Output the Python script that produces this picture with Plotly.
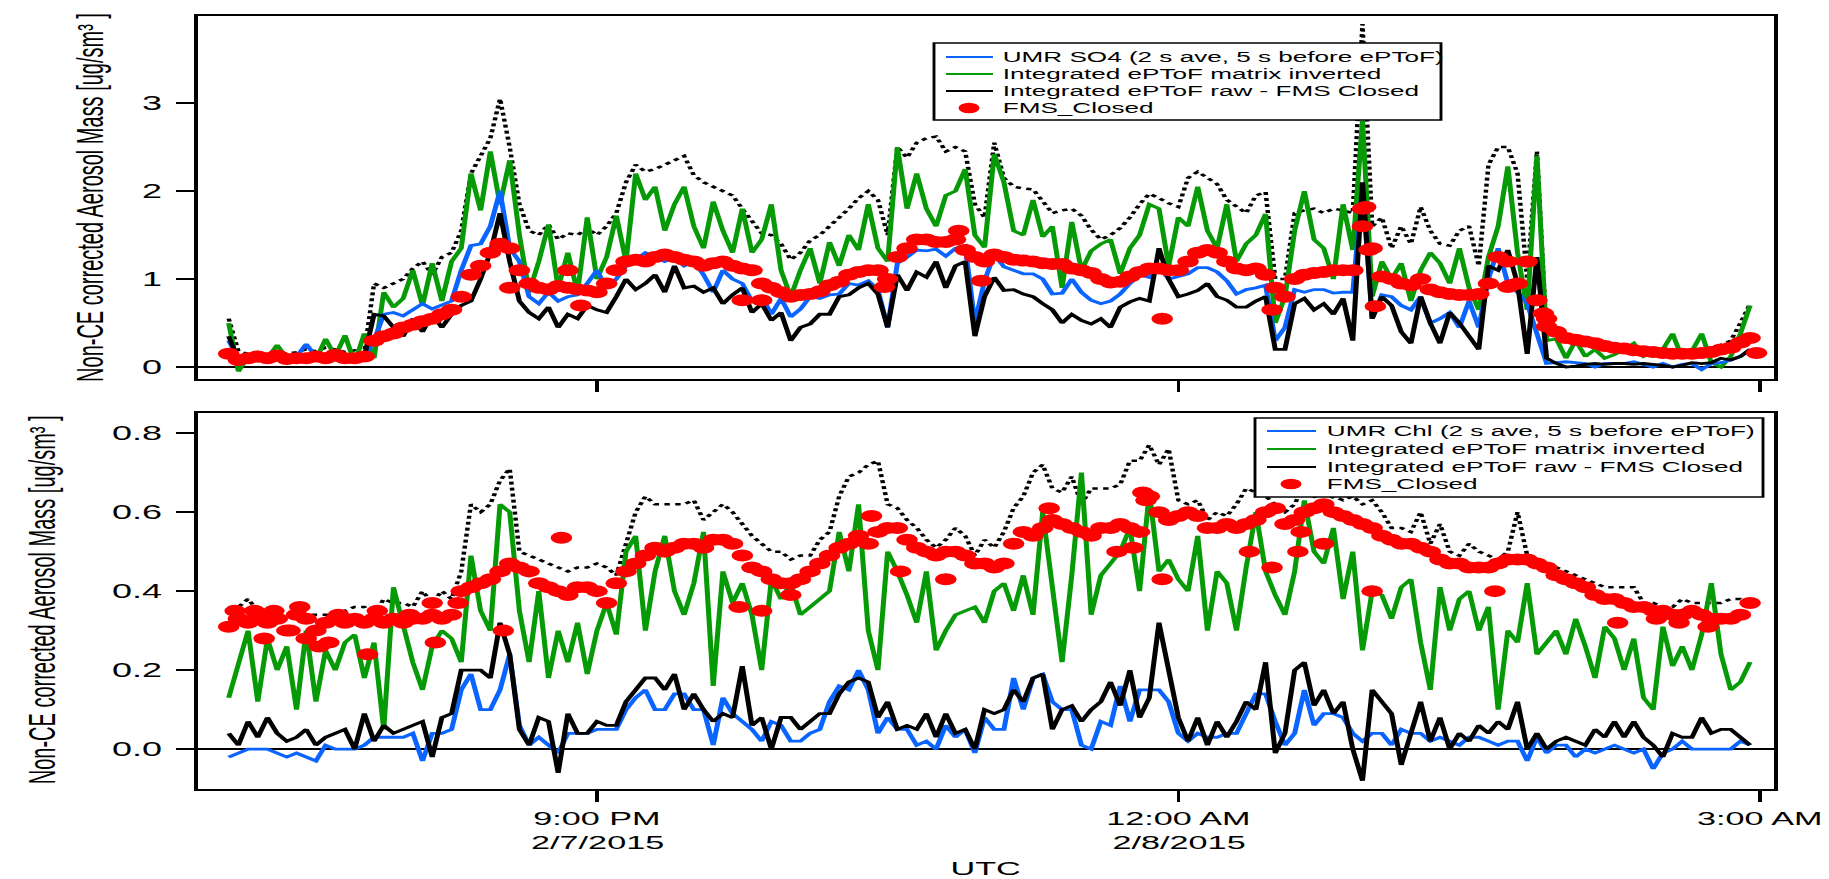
import pandas as pd
import plotly.graph_objects as go

# ---------------- sample times (3-min grid, UTC) ----------------
T_START = "2015-02-07 19:06"
N_PTS = 158
times = pd.date_range(T_START, periods=N_PTS, freq="3min")

# ---------------- top panel: SO4 ----------------
so4_total = [0.55, 0.18, 0.15, 0.17, 0.14, 0.18, 0.15, 0.17, 0.2, 0.18,
             0.22, 0.2, 0.17, 0.19, 0.16, 0.95, 0.9, 0.95, 1.0, 1.12,
             1.2, 1.05, 1.25, 1.3, 1.55, 2.2, 2.4, 2.6, 3.05, 2.5,
             1.85, 1.55, 1.5, 1.62, 1.45, 1.52, 1.5, 1.58, 1.5, 1.6,
             1.75, 2.1, 2.3, 2.22, 2.25, 2.3, 2.35, 2.4, 2.18, 2.1,
             2.05, 2.0, 1.95, 1.8, 1.65, 1.52, 1.5, 1.4, 1.22, 1.3,
             1.44, 1.5, 1.6, 1.7, 1.8, 1.92, 2.0, 1.9, 1.5, 2.5,
             2.38, 2.55, 2.6, 2.62, 2.45, 2.5, 2.45, 1.85, 1.7, 2.55,
             2.15, 2.05, 2.03, 2.02, 1.88, 1.75, 1.78, 1.8, 1.72, 1.56,
             1.45, 1.5, 1.58, 1.7, 1.85, 1.97, 1.92, 1.86, 1.82, 2.15,
             2.22, 2.15, 2.08, 1.9, 1.82, 1.75, 1.95, 1.99, 1.0, 1.0,
             1.75, 1.78, 1.8, 1.75, 1.8, 1.78, 1.75, 3.9, 1.6, 1.7,
             1.35, 1.6, 1.4, 1.82, 1.55, 1.4, 1.38, 1.55, 1.6, 1.15,
             2.3, 2.5, 2.5, 2.2, 1.0, 2.45, 0.35, 0.4, 0.32, 0.3,
             0.28, 0.26, 0.24, 0.22, 0.21, 0.2, 0.19, 0.18, 0.18, 0.17,
             0.17, 0.18, 0.2, 0.22, 0.25, 0.3, 0.5, 0.72]
so4_matrix = [0.5, -0.05, 0.12, 0.08, 0.1, 0.25, 0.1, 0.06, 0.12, 0.08,
              0.32, 0.12, 0.36, 0.05, 0.38, 0.1, 0.85, 0.68, 0.78, 1.1,
              0.7, 1.18, 0.75, 1.2, 1.35, 2.2, 1.78, 2.45, 1.85, 2.35,
              1.5, 0.85, 1.2, 1.62, 0.9, 1.3, 0.85, 1.7, 1.0, 1.25,
              1.72, 1.2, 2.2, 1.9, 2.05, 1.55, 1.85, 2.05, 1.6, 1.35,
              1.88, 1.55, 1.3, 1.8, 1.3, 1.45, 1.85, 1.1, 0.8, 1.1,
              1.35, 0.95, 1.42, 1.15, 1.5, 1.33, 1.85, 1.35, 1.2, 2.5,
              1.8, 2.2, 1.8, 1.6, 1.95, 2.0, 2.25, 1.5, 1.36, 2.42,
              2.1, 1.55, 1.5, 1.9, 1.48, 1.6, 0.9, 1.65, 1.1, 1.32,
              1.4, 1.45, 1.06, 1.35, 1.5, 1.85, 1.8, 1.15, 1.7, 1.6,
              2.05, 1.55, 1.35, 1.85, 1.2, 1.4, 1.5, 1.74, 0.5, 0.8,
              1.55, 2.0, 1.45, 1.35, 1.0, 1.85, 1.33, 2.8, 0.8, 1.2,
              1.0, 1.18, 0.75, 1.1, 1.3, 1.18, 0.95, 1.35, 0.9, 0.65,
              1.25, 1.6, 2.28, 1.3, 0.65, 2.4, 0.3, 0.32, 0.1, 0.3,
              0.12, 0.2, 0.1, 0.14, 0.2, 0.27, 0.12, 0.16, 0.2, 0.38,
              0.1, 0.18, 0.38, 0.05, 0.0, 0.12, 0.38, 0.7]
so4_umr = [0.3, 0.1, 0.1, 0.09, 0.1, 0.12, 0.1, 0.12, 0.26, 0.12,
           0.15, 0.1, 0.12, 0.1, 0.12, 0.3, 0.6, 0.62, 0.58, 0.65,
           0.72, 0.66, 0.7, 0.75, 1.1, 1.38, 1.4, 1.6, 2.0, 1.35,
           1.2, 0.8, 0.72, 0.85, 0.75, 0.8, 0.82, 0.95, 1.1, 0.9,
           1.0, 1.15, 1.22, 1.3, 1.25, 1.2, 1.25, 1.15, 1.2, 1.05,
           0.85, 1.1, 1.0, 0.95, 0.75, 0.8, 0.6, 0.78, 0.57, 0.66,
           0.8, 0.78, 0.82, 0.83, 0.95, 0.93, 0.98, 0.88, 0.45, 1.18,
           1.25, 1.33, 1.32, 1.34, 1.26, 1.35, 1.38, 0.5, 0.98, 1.28,
           1.14, 1.1, 1.06, 1.06, 1.0, 0.83, 0.84, 1.0, 0.85, 0.76,
           0.72, 0.75, 0.83, 0.95, 1.05, 1.02, 1.14, 1.0, 1.03, 1.06,
           1.13, 1.13, 1.08, 0.98, 0.83, 0.88, 0.9, 0.93, 0.3, 0.45,
           0.88, 0.85, 0.88, 0.88, 0.84, 0.85, 0.85, 2.05, 0.55, 0.82,
           0.8, 0.7, 0.65, 0.8, 0.5, 0.55, 0.62, 0.45, 0.75, 0.45,
           1.0, 1.35, 0.95, 0.85, 0.72, 0.4, 0.04, 0.05, 0.06, 0.05,
           0.04, 0.0, 0.04, 0.04, 0.04, 0.06, 0.03, 0.0, 0.04, 0.0,
           0.03, 0.04, -0.03, 0.04, 0.05, 0.08, 0.12, 0.2]
so4_raw = [0.35, 0.08, 0.1, 0.07, 0.1, 0.08, 0.1, 0.06, 0.1, 0.08,
           0.1, 0.08, 0.1, 0.08, 0.12, 0.6, 0.58, 0.45, 0.35, 0.55,
           0.4, 0.6, 0.45, 0.6, 0.7, 0.75, 1.0, 1.3, 1.75, 1.2,
           0.75, 0.62, 0.55, 0.68, 0.45, 0.6, 0.55, 0.7, 0.65, 0.62,
           0.8, 1.0, 0.88, 0.95, 1.05, 0.85, 1.15, 0.9, 0.92, 0.85,
           0.9, 0.72, 0.82, 0.9, 0.62, 0.72, 0.53, 0.62, 0.3, 0.45,
           0.49, 0.6, 0.6, 0.8, 0.82, 0.9, 0.95, 0.83, 0.45, 1.05,
           0.87, 1.08, 1.02, 1.2, 0.9, 1.15, 1.2, 0.35, 0.8, 1.02,
           0.87, 0.88, 0.83, 0.8, 0.72, 0.65, 0.5, 0.6, 0.53, 0.49,
           0.55, 0.45, 0.68, 0.74, 0.78, 0.75, 1.35, 1.0, 0.8, 0.83,
           0.87, 0.95, 0.8, 0.76, 0.68, 0.68, 0.75, 0.8, 0.2, 0.2,
           0.72, 0.78, 0.65, 0.72, 0.6, 0.78, 0.3, 2.1, 0.55, 0.8,
           0.7, 0.4, 0.27, 0.8, 0.5, 0.27, 0.62, 0.5, 0.35, 0.2,
           1.15, 1.1, 1.33, 0.95, 0.15, 1.25, 0.1, 0.04, 0.0, 0.01,
           0.03, 0.04, 0.03, 0.04, 0.04, 0.03, 0.04, 0.03, 0.02, 0.0,
           0.02, 0.05, 0.04, 0.05, 0.1, 0.08, 0.12, 0.2]
so4_fms = [0.15, 0.08, 0.1, 0.12, 0.1, 0.13, 0.09, 0.1, 0.1, 0.12,
           0.1, 0.14, 0.1, 0.1, 0.12, 0.3, 0.35, 0.38, 0.45, 0.48,
           0.52, 0.55, 0.6, 0.65, 0.8, 1.05, 1.15, 1.3, 1.4, 1.35,
           1.1, 0.95, 0.9, 0.88, 0.92, 0.9, 0.88, 0.87, 0.85, 0.95,
           1.1, 1.2, 1.22, 1.2, 1.25, 1.28, 1.25, 1.22, 1.2, 1.15,
           1.18, 1.2, 1.15, 1.12, 1.1, 0.95, 0.9, 0.85, 0.8, 0.82,
           0.83, 0.86, 0.93, 0.97, 1.05, 1.08, 1.1, 1.1, 1.0, 1.25,
           1.35, 1.45, 1.45, 1.42, 1.42, 1.45, 1.33, 1.25, 1.2, 1.28,
           1.25, 1.22, 1.21, 1.2, 1.18, 1.17, 1.17, 1.12, 1.1, 1.07,
           1.0, 0.96, 0.97, 1.03, 1.08, 1.12, 1.12, 1.1, 1.1, 1.2,
           1.3, 1.33, 1.3, 1.2, 1.12, 1.1, 1.12, 1.05, 0.9, 0.8,
           1.0, 1.05, 1.07, 1.08, 1.1, 1.1, 1.1, 1.8, 1.35, 1.03,
           1.0, 0.95, 0.93, 1.0, 0.88, 0.85, 0.83, 0.82, 0.82, 0.83,
           0.95, 1.25, 1.2, 0.95, 1.2, 0.76, 0.55, 0.4, 0.33, 0.31,
           0.29, 0.27, 0.24, 0.22, 0.21, 0.19, 0.18, 0.17, 0.16, 0.15,
           0.15, 0.15, 0.16, 0.17, 0.2, 0.22, 0.28, 0.33]
so4_fms_extra_t = ["2015-02-07 20:33", "2015-02-07 20:51", "2015-02-07 20:55", "2015-02-07 21:45",
                   "2015-02-07 21:51", "2015-02-07 22:29", "2015-02-07 22:52", "2015-02-07 22:59",
                   "2015-02-07 23:55", "2015-02-08 00:29", "2015-02-08 00:57", "2015-02-08 00:58",
                   "2015-02-08 00:59", "2015-02-08 01:01", "2015-02-08 01:42", "2015-02-08 01:43",
                   "2015-02-08 01:53", "2015-02-08 01:54", "2015-02-08 02:59"]
so4_fms_extra_v = [0.9, 1.1, 0.7, 0.76, 0.76, 0.91, 1.55, 0.98, 0.55, 0.65, 1.6, 1.82,
                   1.33, 0.69, 0.91, 0.93, 0.61, 0.46, 0.16]

# ---------------- bottom panel: Chl ----------------
chl_total = [0.36, 0.36, 0.38, 0.35, 0.33, 0.32, 0.33, 0.33, 0.34, 0.34,
             0.34, 0.34, 0.35, 0.36, 0.36, 0.34, 0.38, 0.37, 0.37, 0.36,
             0.4, 0.37, 0.4, 0.38, 0.45, 0.62, 0.6, 0.62, 0.68, 0.71,
             0.5, 0.49, 0.48, 0.47, 0.46, 0.45, 0.46, 0.46, 0.47, 0.46,
             0.44, 0.52, 0.6, 0.64, 0.62, 0.62, 0.62, 0.62, 0.63, 0.58,
             0.6, 0.62, 0.6, 0.57, 0.54, 0.52, 0.5, 0.5, 0.48, 0.49,
             0.49, 0.53, 0.55, 0.64, 0.69, 0.7, 0.72, 0.73, 0.62, 0.61,
             0.58, 0.56, 0.53, 0.51, 0.53, 0.56, 0.54, 0.49, 0.53, 0.51,
             0.55, 0.61, 0.64, 0.7, 0.72, 0.66, 0.65, 0.69, 0.62, 0.66,
             0.66, 0.66, 0.67, 0.73, 0.73, 0.77, 0.72, 0.76, 0.63, 0.62,
             0.63, 0.58, 0.6, 0.59, 0.62, 0.66, 0.65, 0.64, 0.62, 0.6,
             0.62, 0.67, 0.64, 0.62, 0.64, 0.63, 0.64, 0.62, 0.63, 0.6,
             0.56, 0.56, 0.55, 0.6, 0.52, 0.57, 0.5, 0.49, 0.52, 0.5,
             0.49, 0.48, 0.5, 0.6, 0.49, 0.48, 0.47, 0.46, 0.45, 0.44,
             0.43, 0.42, 0.41, 0.41, 0.41, 0.41, 0.37, 0.37, 0.36, 0.36,
             0.38, 0.37, 0.37, 0.37, 0.37, 0.38, 0.38, 0.37]
chl_matrix = [0.13, 0.22, 0.3, 0.12, 0.28, 0.2, 0.26, 0.1, 0.3, 0.12,
              0.25, 0.2, 0.27, 0.29, 0.18, 0.27, 0.05, 0.41, 0.32, 0.22,
              0.15, 0.26, 0.3, 0.28, 0.22, 0.49, 0.35, 0.3, 0.62, 0.6,
              0.35, 0.22, 0.4, 0.18, 0.3, 0.22, 0.32, 0.19, 0.3, 0.37,
              0.29, 0.5, 0.54, 0.3, 0.45, 0.54, 0.4, 0.34, 0.42, 0.55,
              0.16, 0.45, 0.37, 0.42, 0.34, 0.2, 0.43, 0.38, 0.42, 0.34,
              0.36, 0.38, 0.4, 0.55, 0.45, 0.62, 0.3, 0.2, 0.5, 0.45,
              0.39, 0.32, 0.45, 0.25, 0.3, 0.34, 0.35, 0.36, 0.32, 0.4,
              0.42, 0.35, 0.44, 0.34, 0.6, 0.42, 0.22, 0.44, 0.7, 0.34,
              0.44, 0.47, 0.5, 0.56, 0.4, 0.65, 0.45, 0.48, 0.43, 0.4,
              0.54, 0.3, 0.45, 0.42, 0.3, 0.46, 0.6, 0.45, 0.39, 0.34,
              0.45, 0.63, 0.5, 0.47, 0.56, 0.38, 0.5, 0.25, 0.4, 0.39,
              0.33, 0.41, 0.43, 0.27, 0.15, 0.41, 0.3, 0.38, 0.4, 0.3,
              0.36, 0.1, 0.3, 0.27, 0.42, 0.24, 0.27, 0.3, 0.24, 0.33,
              0.26, 0.18, 0.31, 0.28, 0.2, 0.28, 0.13, 0.1, 0.31, 0.21,
              0.26, 0.2, 0.29, 0.42, 0.24, 0.15, 0.17, 0.22]
chl_umr = [-0.02, -0.01, 0.0, 0.0, 0.0, -0.01, -0.02, -0.01, -0.02, -0.03,
           0.01, 0.0, 0.0, 0.0, 0.01, 0.03, 0.03, 0.03, 0.03, 0.04,
           -0.03, 0.04, 0.04, 0.05, 0.15, 0.19, 0.1, 0.1, 0.15, 0.24,
           0.06, 0.01, 0.03, 0.01, -0.01, 0.04, 0.04, 0.04, 0.05, 0.05,
           0.05, 0.1, 0.13, 0.15, 0.1, 0.1, 0.14, 0.14, 0.1, 0.1,
           0.01, 0.13, 0.09, 0.07, 0.05, 0.02, 0.07, 0.06, 0.02, 0.02,
           0.04, 0.05, 0.12, 0.16, 0.15, 0.2, 0.15, 0.04, 0.08, 0.05,
           0.05, 0.01, 0.02, 0.0, 0.06, 0.03, 0.05, -0.01, 0.08, 0.05,
           0.05, 0.18, 0.1, 0.18, 0.19, 0.12, 0.1, 0.1, 0.01, 0.0,
           0.07, 0.06, 0.16, 0.07, 0.15, 0.15, 0.15, 0.12, 0.04, 0.02,
           0.04, 0.03, 0.03, 0.04, 0.04, 0.09, 0.14, 0.14, 0.07, 0.01,
           0.04, 0.15, 0.06, 0.09, 0.09, 0.08, 0.04, 0.02, 0.04, 0.04,
           0.01, 0.05, 0.04, 0.04, 0.02, 0.03, 0.02, 0.01, 0.03, 0.03,
           0.02, 0.01, 0.02, 0.02, -0.03, 0.03, -0.01, 0.01, 0.01, -0.02,
           0.0, -0.01, 0.0, 0.01, 0.0, -0.01, 0.0, -0.05, -0.01, 0.0,
           0.02, 0.0, 0.0, 0.0, 0.0, 0.0, 0.02, 0.01]
chl_raw = [0.04, 0.01, 0.07, 0.03, 0.08, 0.04, 0.02, 0.03, 0.05, 0.01,
           0.03, 0.04, 0.05, 0.0, 0.09, 0.02, 0.06, 0.04, 0.05, 0.06,
           0.07, -0.02, 0.08, 0.09, 0.2, 0.2, 0.2, 0.18, 0.32, 0.24,
           0.05, 0.01, 0.08, 0.07, -0.06, 0.09, 0.04, 0.04, 0.07, 0.06,
           0.06, 0.12, 0.15, 0.18, 0.18, 0.15, 0.19, 0.1, 0.14, 0.1,
           0.07, 0.09, 0.08, 0.21, 0.06, 0.08, 0.0, 0.08, 0.08, 0.05,
           0.07, 0.09, 0.09, 0.14, 0.17, 0.18, 0.17, 0.08, 0.12, 0.05,
           0.06, 0.05, 0.09, 0.03, 0.09, 0.04, 0.05, 0.0, 0.1, 0.09,
           0.1, 0.15, 0.12, 0.18, 0.19, 0.05, 0.1, 0.11, 0.07, 0.1,
           0.12, 0.17, 0.11, 0.2, 0.08, 0.13, 0.32, 0.2, 0.08, 0.02,
           0.08, 0.01, 0.07, 0.03, 0.07, 0.12, 0.1, 0.22, -0.01, 0.04,
           0.2, 0.22, 0.11, 0.15, 0.09, 0.12, 0.0, -0.08, 0.15, 0.12,
           0.09, -0.04, 0.04, 0.12, 0.02, 0.08, 0.0, 0.04, 0.02, 0.06,
           0.04, 0.07, 0.05, 0.12, 0.0, 0.04, 0.0, 0.02, 0.03, 0.02,
           0.01, 0.05, 0.03, 0.07, 0.03, 0.07, 0.03, 0.01, -0.02, 0.04,
           0.03, 0.03, 0.08, 0.04, 0.05, 0.05, 0.03, 0.01]
chl_fms = [0.31, 0.33, 0.32, 0.34, 0.32, 0.33, 0.3, 0.34, 0.33, 0.3,
           0.32, 0.33, 0.32, 0.33, 0.32, 0.33, 0.32, 0.33, 0.32, 0.33,
           0.33, 0.34, 0.33, 0.34, 0.4, 0.41, 0.42, 0.43, 0.45, 0.47,
           0.46, 0.45, 0.42, 0.41, 0.4, 0.39, 0.41, 0.41, 0.4, 0.37,
           0.42, 0.45, 0.47, 0.49, 0.51, 0.5, 0.51, 0.52, 0.52, 0.51,
           0.53, 0.53, 0.52, 0.49, 0.46, 0.45, 0.43, 0.42, 0.42, 0.43,
           0.45, 0.47, 0.49, 0.51, 0.52, 0.54, 0.52, 0.55, 0.56, 0.56,
           0.53, 0.51, 0.5, 0.49, 0.5, 0.5, 0.49, 0.47, 0.47, 0.46,
           0.47, 0.52, 0.55, 0.54, 0.56, 0.58, 0.57, 0.56, 0.55, 0.54,
           0.56, 0.56, 0.57, 0.56, 0.55, 0.64, 0.6, 0.58, 0.59, 0.6,
           0.59, 0.56, 0.56, 0.57, 0.56, 0.57, 0.58, 0.6, 0.61, 0.57,
           0.58, 0.6, 0.61, 0.62, 0.6, 0.59, 0.58, 0.57, 0.56, 0.54,
           0.53, 0.52, 0.52, 0.51, 0.5, 0.48, 0.47, 0.47, 0.46, 0.46,
           0.46, 0.47, 0.48, 0.48, 0.48, 0.47, 0.46, 0.44, 0.43, 0.42,
           0.41, 0.39, 0.38, 0.38, 0.37, 0.36, 0.36, 0.35, 0.35, 0.34,
           0.34, 0.35, 0.34, 0.33, 0.33, 0.33, 0.34, 0.37]
chl_fms_extra_t = ["2015-02-07 19:08", "2015-02-07 19:14", "2015-02-07 19:17", "2015-02-07 19:20",
                   "2015-02-07 19:25", "2015-02-07 19:28", "2015-02-07 19:30", "2015-02-07 19:34",
                   "2015-02-07 19:37", "2015-02-07 19:40", "2015-02-07 19:49", "2015-02-07 19:52",
                   "2015-02-07 20:02", "2015-02-07 20:09", "2015-02-07 20:10", "2015-02-07 20:17",
                   "2015-02-07 20:31", "2015-02-07 20:49", "2015-02-07 21:44", "2015-02-07 21:51",
                   "2015-02-07 22:00", "2015-02-07 22:25", "2015-02-07 22:34", "2015-02-07 22:48",
                   "2015-02-07 23:20", "2015-02-07 23:41", "2015-02-07 23:46", "2015-02-07 23:49",
                   "2015-02-07 23:50", "2015-02-07 23:55", "2015-02-08 00:22", "2015-02-08 00:29",
                   "2015-02-08 00:37", "2015-02-08 00:38", "2015-02-08 00:45", "2015-02-08 01:00",
                   "2015-02-08 01:38", "2015-02-08 02:16", "2015-02-08 02:28", "2015-02-08 02:35",
                   "2015-02-08 02:44"]
chl_fms_extra_v = [0.35, 0.35, 0.28, 0.35, 0.3, 0.36, 0.28, 0.26,
                   0.27, 0.34, 0.24, 0.35, 0.34, 0.37, 0.27, 0.37,
                   0.3, 0.535, 0.36, 0.35, 0.39, 0.59, 0.45, 0.43,
                   0.61, 0.5, 0.51, 0.65, 0.63, 0.43, 0.5, 0.46,
                   0.5, 0.55, 0.52, 0.4, 0.4, 0.32, 0.33, 0.32, 0.31]

# ---------------- axis ticks / labels ----------------
x_tickvals = ["2015-02-07 21:00", "2015-02-08 00:00", "2015-02-08 03:00"]
x_ticktext = ["9:00 PM", "12:00 AM", "3:00 AM"]
x_datetext = ["2/7/2015", "2/8/2015", ""]
so4_yticks = [0, 1, 2, 3]
chl_yticks = [0.0, 0.2, 0.4, 0.6, 0.8]
legend_top = ["UMR SO4 (2 s ave, 5 s before ePToF)", "Integrated ePToF matrix inverted",
              "Integrated ePToF raw - FMS Closed", "FMS_Closed"]
legend_bot = ["UMR Chl (2 s ave, 5 s before ePToF)", "Integrated ePToF matrix inverted",
              "Integrated ePToF raw - FMS Closed", "FMS_Closed"]

for arr in (so4_total, so4_matrix, so4_umr, so4_raw, so4_fms,
            chl_total, chl_matrix, chl_umr, chl_raw, chl_fms):
    assert len(arr) == N_PTS, len(arr)
assert len(so4_fms_extra_t) == len(so4_fms_extra_v)
assert len(chl_fms_extra_t) == len(chl_fms_extra_v)

# ---------------- style ----------------
BLUE = "#0a64ff"
GREEN = "#079a07"
RED = "#ff0000"
FONT = "Liberation Sans, Arial, sans-serif"
W_FULL, H_FULL = 1829, 879
W0 = 1016                     # drawn width; page stretches horizontally
SX = W_FULL / W0
LW = 2.8
MK = 12

fig = go.Figure()


def add_panel(xa, ya, total, matrix, umr, raw, fms, ext_t, ext_v):
    fig.add_trace(go.Scatter(x=times, y=total, mode="lines", xaxis=xa, yaxis=ya,
                             line=dict(color="black", width=2.5, dash="dot")))
    fig.add_trace(go.Scatter(x=times, y=matrix, mode="lines", xaxis=xa, yaxis=ya,
                             line=dict(color=GREEN, width=LW)))
    fig.add_trace(go.Scatter(x=times, y=umr, mode="lines", xaxis=xa, yaxis=ya,
                             line=dict(color=BLUE, width=LW)))
    fig.add_trace(go.Scatter(x=times, y=raw, mode="lines", xaxis=xa, yaxis=ya,
                             line=dict(color="black", width=LW)))
    fig.add_trace(go.Scatter(x=times, y=fms, mode="markers", xaxis=xa, yaxis=ya,
                             marker=dict(color=RED, size=MK, line=dict(width=0))))
    fig.add_trace(go.Scatter(x=pd.to_datetime(ext_t), y=ext_v, mode="markers", xaxis=xa, yaxis=ya,
                             marker=dict(color=RED, size=MK, line=dict(width=0))))


add_panel("x", "y", so4_total, so4_matrix, so4_umr, so4_raw, so4_fms,
          so4_fms_extra_t, so4_fms_extra_v)
add_panel("x2", "y2", chl_total, chl_matrix, chl_umr, chl_raw, chl_fms,
          chl_fms_extra_t, chl_fms_extra_v)

# plot-area geometry (in final page pixels)
PL, PR = 198, 1774
TOP_T, TOP_B = 16, 379
BOT_T, BOT_B = 413, 789
xdom = [PL / W_FULL, PR / W_FULL]
ydom_top = [1 - TOP_B / H_FULL, 1 - TOP_T / H_FULL]
ydom_bot = [1 - BOT_B / H_FULL, 1 - BOT_T / H_FULL]
x_range = ["2015-02-07 18:56:30", "2015-02-08 03:04:24"]

axis_common = dict(showline=True, linecolor="black", linewidth=2, mirror=True,
                   showgrid=False, ticks="outside", tickcolor="black", tickwidth=2,
                   automargin=False)

fig.update_layout(
    width=W0, height=H_FULL,
    margin=dict(l=0, r=0, t=0, b=0),
    paper_bgcolor="white", plot_bgcolor="white",
    showlegend=False,
    font=dict(family=FONT, color="black"),
    xaxis=dict(axis_common, type="date", domain=xdom, range=x_range, anchor="y",
               tickvals=x_tickvals, ticktext=x_ticktext, showticklabels=False, ticklen=11),
    xaxis2=dict(axis_common, type="date", domain=xdom, range=x_range, anchor="y2",
                tickvals=x_tickvals, ticktext=x_ticktext, ticklen=11,
                tickfont=dict(size=19, family=FONT, color="black")),
    yaxis=dict(axis_common, domain=ydom_top, range=[-0.136, 3.99], anchor="x",
               tickvals=so4_yticks, ticktext=[str(v) for v in so4_yticks], ticklen=10,
               ticklabelstandoff=4,
               zeroline=True, zerolinecolor="black", zerolinewidth=1.6,
               tickfont=dict(size=20, family=FONT, color="black")),
    yaxis2=dict(axis_common, domain=ydom_bot, range=[-0.101, 0.851], anchor="x2",
                tickvals=chl_yticks, ticktext=[f"{v:.1f}" for v in chl_yticks], ticklen=10,
                ticklabelstandoff=4,
                zeroline=True, zerolinecolor="black", zerolinewidth=1.6,
                tickfont=dict(size=20, family=FONT, color="black")),
)

# second line of the date tick labels
for tv, dt in zip(x_tickvals, x_datetext):
    if dt:
        fig.add_annotation(text=dt, xref="x2", yref="paper", x=tv, y=1 - 842 / H_FULL,
                           xanchor="center", yanchor="middle", showarrow=False,
                           font=dict(size=19, family=FONT, color="black"))

# y-axis titles and x title
ytitle = "Non-CE corrected Aerosol Mass [ug/sm\u00b3 ]"
fig.add_annotation(text=ytitle, textangle=-90, xref="paper", yref="paper",
                   x=90 / W_FULL, y=1 - 197 / H_FULL, xanchor="center", yanchor="middle",
                   showarrow=False, font=dict(size=20, family=FONT, color="black"))
fig.add_annotation(text=ytitle, textangle=-90, xref="paper", yref="paper",
                   x=42 / W_FULL, y=1 - 600 / H_FULL, xanchor="center", yanchor="middle",
                   showarrow=False, font=dict(size=20, family=FONT, color="black"))
fig.add_annotation(text="UTC", xref="paper", yref="paper",
                   x=(PL + PR) / 2 / W_FULL, y=1 - 868 / H_FULL, xanchor="center", yanchor="middle",
                   showarrow=False, font=dict(size=19, family=FONT, color="black"))


def draw_legend(box, rows, line_x, mark_cx, text_x, labels):
    bx0, by0, bx1, by1 = box
    fig.add_shape(type="rect", xref="paper", yref="paper",
                  x0=bx0 / W_FULL, x1=bx1 / W_FULL, y0=1 - by1 / H_FULL, y1=1 - by0 / H_FULL,
                  line=dict(color="black", width=1.6), fillcolor="white", layer="above")
    colors = [BLUE, GREEN, "black"]
    for k in range(3):
        yy = 1 - rows[k] / H_FULL
        fig.add_shape(type="line", xref="paper", yref="paper",
                      x0=line_x[0] / W_FULL, x1=line_x[1] / W_FULL, y0=yy, y1=yy,
                      line=dict(color=colors[k], width=2.2), layer="above")
    cy = rows[3]
    fig.add_shape(type="circle", xref="paper", yref="paper",
                  x0=(mark_cx - 10.5) / W_FULL, x1=(mark_cx + 10.5) / W_FULL,
                  y0=1 - (cy + 5.3) / H_FULL, y1=1 - (cy - 5.3) / H_FULL,
                  line=dict(width=0), fillcolor=RED, layer="above")
    for k, lab in enumerate(labels):
        fig.add_annotation(text=lab, xref="paper", yref="paper",
                           x=text_x / W_FULL, y=1 - rows[k] / H_FULL,
                           xanchor="left", yanchor="middle", showarrow=False,
                           font=dict(size=14.5, family=FONT, color="black"))


draw_legend((934, 43, 1441, 120), [57, 74, 91, 108], (946, 993), 969, 1000, legend_top)
draw_legend((1255, 418, 1763, 497), [431, 449, 467, 484], (1267, 1316), 1291, 1324, legend_bot)

post = ("var gd=document.getElementById('{plot_id}');"
        "document.documentElement.style.margin='0';document.body.style.margin='0';"
        "document.body.style.overflow='hidden';"
        "gd.style.transformOrigin='0 0';"
        "gd.style.transform='scale(" + f"{SX:.5f}" + ",1)';")
fig.write_html("out.html", post_script=post)
